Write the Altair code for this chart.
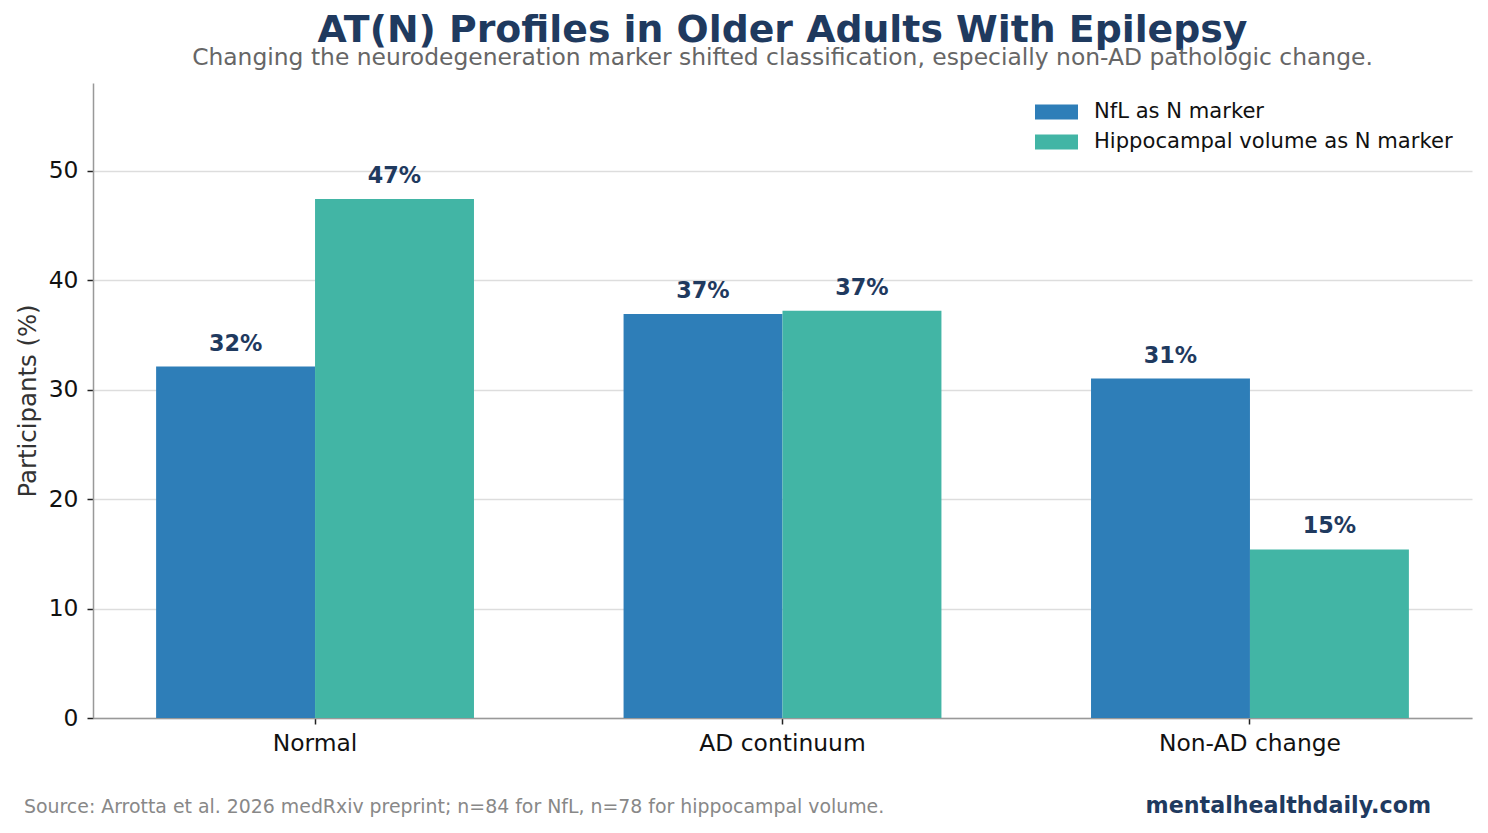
import altair as alt
import pandas as pd

# Share of participants in each AT(N) profile, by neurodegeneration marker
categories = ["Normal", "AD continuum", "Non-AD change"]
series_names = ["NfL as N marker", "Hippocampal volume as N marker"]
nfl_pct = [32.1, 36.9, 31.0]
hippo_pct = [47.4, 37.2, 15.4]
series_colors = ["#2e7eb8", "#42b5a5"]
y_ticks = [0, 10, 20, 30, 40, 50]

title_text = "AT(N) Profiles in Older Adults With Epilepsy"
subtitle_text = "Changing the neurodegeneration marker shifted classification, especially non-AD pathologic change."
source_text = "Source: Arrotta et al. 2026 medRxiv preprint; n=84 for NfL, n=78 for hippocampal volume."
brand_text = "mentalhealthdaily.com"

FONT = "DejaVu Sans"
NAVY = "#1f3a5f"

rows = []
for cat, a, b in zip(categories, nfl_pct, hippo_pct):
    rows.append({"profile": cat, "marker": series_names[0], "pct": a})
    rows.append({"profile": cat, "marker": series_names[1], "pct": b})
df = pd.DataFrame(rows)
df["label"] = df["pct"].round().astype(int).astype(str) + "%"

x_enc = alt.X(
    "profile:N",
    sort=categories,
    scale=alt.Scale(paddingInner=0.32, paddingOuter=0.135),
    axis=alt.Axis(
        title=None, labelAngle=0, labelFontSize=23.4, labelColor="#111111",
        labelPadding=8, labelLimit=0, tickSize=6, tickColor="#222222", tickWidth=1.5,
        domainColor="#999999", domainWidth=1.5, grid=False, labelFont=FONT,
    ),
)
xoff_enc = alt.XOffset("marker:N", sort=series_names,
                       scale=alt.Scale(paddingInner=0, paddingOuter=0))
y_enc = alt.Y(
    "pct:Q",
    scale=alt.Scale(domain=[0, 58], nice=False, zero=True),
    axis=alt.Axis(
        values=y_ticks, title="Participants (%)", titleFontSize=24.4,
        titleFontWeight="normal", titleColor="#333333", titleFont=FONT,
        titlePadding=8, labelFontSize=23.4, labelColor="#111111", labelFont=FONT,
        labelPadding=9, tickSize=6, tickColor="#222222", tickWidth=1.5,
        domainColor="#999999", domainWidth=1.5,
        grid=True, gridColor="#dddddd", gridWidth=1.5,
    ),
)
color_enc = alt.Color(
    "marker:N",
    sort=series_names,
    scale=alt.Scale(domain=series_names, range=series_colors),
    legend=alt.Legend(
        title=None, orient="none", legendX=942, legendY=18,
        labelFontSize=21.1, labelFont=FONT, labelColor="#111111", labelLimit=0,
        symbolType="M-1,-0.35L1,-0.35L1,0.35L-1,0.35Z", symbolSize=1849,
        symbolStrokeWidth=0, symbolOpacity=1, labelOffset=16,
        clipHeight=22, rowPadding=8, padding=0,
    ),
)

bars = alt.Chart(df).mark_bar().encode(
    x=x_enc, xOffset=xoff_enc, y=y_enc, color=color_enc
)

labels = alt.Chart(df).mark_text(
    font=FONT, fontSize=22.3, fontWeight="bold", color=NAVY, dy=-16, baseline="alphabetic"
).encode(x=x_enc, xOffset=xoff_enc, y=y_enc, text="label:N")

# Footer: source note on the left, site name on the right
source = alt.Chart(pd.DataFrame({"t": [source_text]})).mark_text(
    font=FONT, fontSize=18.9, color="#888888", align="left", baseline="alphabetic"
).encode(x=alt.value(-69), y=alt.value(730), text="t:N")

brand = alt.Chart(pd.DataFrame({"t": [brand_text]})).mark_text(
    font=FONT, fontSize=22.2, fontWeight="bold", color=NAVY, align="right", baseline="alphabetic"
).encode(x=alt.value(1338), y=alt.value(730), text="t:N")

chart = alt.layer(bars, labels, source, brand).properties(
    width=1379,
    height=635,
    autosize=alt.AutoSizeParams(type="none"),
    padding={"left": 93, "top": 83, "right": 16, "bottom": 115},
    title=alt.TitleParams(
        text=title_text, subtitle=subtitle_text, anchor="middle",
        font=FONT, fontSize=37.8, fontWeight="bold", color=NAVY,
        subtitleFont=FONT, subtitleFontSize=23.4, subtitleColor="#666666",
        subtitlePadding=-3, offset=14,
    ),
).configure(background="white").configure_view(strokeWidth=0, stroke=None)

chart.save("out.html", embed_options={"renderer": "svg", "actions": False})
